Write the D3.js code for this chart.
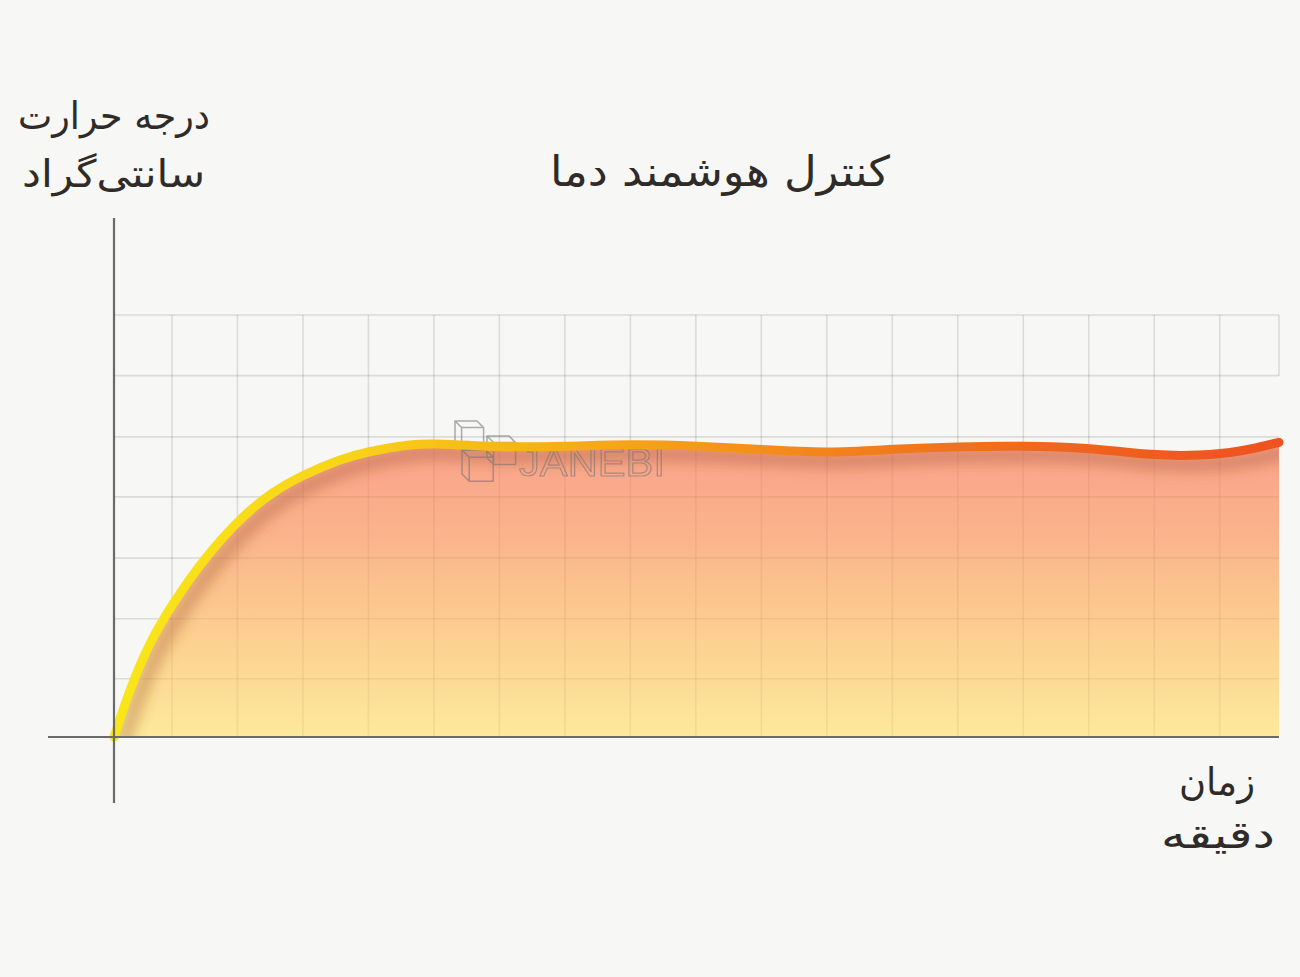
<!DOCTYPE html>
<html>
<head>
<meta charset="utf-8">
<script src="https://cdn.jsdelivr.net/npm/d3@7"></script>
<style>
  html, body { margin: 0; padding: 0; background: #f7f7f5; }
  svg { display: block; }
  text { font-family: "DejaVu Sans", sans-serif; }
</style>
</head>
<body>
<svg id="chart" width="1300" height="977"></svg>
<script>
// ---- data (time in minutes, temperature in °C) ----
const timeMin = [0, 0.244, 0.55, 0.885, 1.313, 1.878, 2.38, 2.90, 3.45, 3.88, 4.52, 4.90, 5.44, 5.89, 6.89, 7.89, 8.90, 9.89, 10.90, 11.91, 12.90, 13.89, 14.90, 15.89, 16.58, 17.19, 17.79];
const tempC   = [0, 8.0, 15.8, 21.8, 28.6, 35.6, 40.2, 43.3, 45.8, 47.1, 48.3, 48.4, 48.1, 47.8, 47.9, 48.3, 48.0, 47.4, 46.8, 47.5, 47.9, 48.0, 47.7, 46.4, 46.4, 47.0, 48.6];
const xGridTicks = [0.885, 1.885, 2.885, 3.885, 4.885, 5.885, 6.885, 7.885, 8.885, 9.885, 10.885, 11.885, 12.885, 13.885, 14.885, 15.885, 16.885];
const yGridTicks = [9.6, 19.5, 29.5, 39.6, 49.5, 59.6, 69.6];
const xDomain = [0, 17.79];
const yDomain = [0, 69.6];
const titleText = "کنترل هوشمند دما";
const yLabelLines = ["درجه حرارت", "سانتی\u200Cگراد"];
const xLabelLines = ["زمان", "دقیقه"];
const watermark = "JANEBI";

const svg = d3.select("#chart");
const x = d3.scaleLinear().domain(xDomain).range([114, 1279]);
const y = d3.scaleLinear().domain(yDomain).range([737, 315]);

const defs = svg.append("defs");
const ag = defs.append("linearGradient").attr("id", "areaGrad")
  .attr("gradientUnits", "userSpaceOnUse").attr("x1", 0).attr("x2", 0).attr("y1", 445).attr("y2", 737);
[[0, "#f9a28a"], [0.3, "#fab38b"], [0.65, "#fccf90"], [1, "#fde99b"]].forEach(s =>
  ag.append("stop").attr("offset", s[0]).attr("stop-color", s[1]));
const lg = defs.append("linearGradient").attr("id", "lineGrad")
  .attr("gradientUnits", "userSpaceOnUse").attr("x1", 114).attr("x2", 1279).attr("y1", 0).attr("y2", 0);
[[0, "#f9e61a"], [0.2, "#f8d418"], [0.3, "#f6bd17"], [0.45, "#f5a21a"], [0.62, "#f3821b"], [0.8, "#f0661c"], [1, "#ee5220"]].forEach(s =>
  lg.append("stop").attr("offset", s[0]).attr("stop-color", s[1]));
const blur = defs.append("filter").attr("id", "blur").attr("x", "-10%").attr("y", "-10%").attr("width", "120%").attr("height", "120%");
blur.append("feGaussianBlur").attr("stdDeviation", 6);

const pts = timeMin.map((t, i) => [t, tempC[i]]);
const curve = d3.curveBasis;
const area = d3.area().x(d => x(d[0])).y0(y(0)).y1(d => y(d[1])).curve(curve);
const line = d3.line().x(d => x(d[0])).y(d => y(d[1])).curve(curve);

defs.append("clipPath").attr("id", "areaClip").append("path").attr("d", area(pts));

function drawGrid(g) {
  g.selectAll("line.v").data(xGridTicks).join("line").attr("class", "v")
    .attr("x1", d => x(d)).attr("x2", d => x(d)).attr("y1", y(yDomain[1])).attr("y2", y(0));
  g.selectAll("line.h").data(yGridTicks).join("line").attr("class", "h")
    .attr("x1", x(0)).attr("x2", x(xDomain[1])).attr("y1", d => y(d)).attr("y2", d => y(d));
}
// grid on background
const grid = svg.append("g").attr("stroke", "#000").attr("stroke-opacity", 0.11).attr("stroke-width", 1.6);
drawGrid(grid);
grid.append("line").attr("x1", x(xDomain[1])).attr("x2", x(xDomain[1]))
  .attr("y1", y(yGridTicks[6])).attr("y2", y(yGridTicks[5]));

// area
svg.append("path").attr("d", area(pts)).attr("fill", "url(#areaGrad)");
// faint grid seen through the fill
const grid2 = svg.append("g").attr("clip-path", "url(#areaClip)")
  .attr("stroke", "#7a5a40").attr("stroke-opacity", 0.09).attr("stroke-width", 1.6);
drawGrid(grid2);
// inner shadow under line
svg.append("g").attr("clip-path", "url(#areaClip)")
  .append("path").attr("d", line(pts))
  .attr("fill", "none").attr("stroke", "rgba(150,70,30,0.30)").attr("stroke-width", 16)
  .attr("filter", "url(#blur)").attr("transform", "translate(8,9)");

// watermark
const wm = svg.append("g").attr("opacity", 0.6).attr("stroke", "#777").attr("fill", "none").attr("stroke-width", 1.5);
const cube = (cx, cy, s) => `M${cx},${cy} h${s} l${s*0.3},${s*0.3} v${s} h${-s} l${-s*0.3},${-s*0.3} z M${cx},${cy} l${s*0.3},${s*0.3} h${s} M${cx+s*0.3},${cy+s*0.3} v${s}`;
wm.append("path").attr("d", cube(455, 421, 22));
wm.append("path").attr("d", cube(487, 436, 22));
wm.append("path").attr("d", cube(462, 450, 24));
svg.append("text").attr("x", 519).attr("y", 476).text(watermark)
  .attr("font-size", 39).attr("fill", "none").attr("stroke", "#777").attr("stroke-width", 1.2)
  .attr("opacity", 0.6).attr("textLength", 146).attr("lengthAdjust", "spacingAndGlyphs")
  .style("font-family", "Liberation Sans, sans-serif");

// line
svg.append("path").attr("d", line(pts)).attr("fill", "none")
  .attr("stroke", "url(#lineGrad)").attr("stroke-width", 9).attr("stroke-linecap", "round").attr("stroke-linejoin", "round");

// axes
const axisG = svg.append("g").attr("stroke", "#6a6a6a").attr("stroke-width", 2.2);
axisG.append("line").attr("x1", 48).attr("x2", x(xDomain[1])).attr("y1", y(0)).attr("y2", y(0));
axisG.append("line").attr("x1", x(0)).attr("x2", x(0)).attr("y1", 218).attr("y2", 803);

// texts
const tc = "#2f2b29";
function label(xr, yb, size, len, txt) {
  svg.append("text").attr("x", xr - len).attr("y", yb).attr("text-anchor", "start")
    .attr("font-size", size).attr("fill", tc)
    .attr("textLength", len).attr("lengthAdjust", "spacingAndGlyphs").text(txt);
}
label(890, 186, 42, 340, titleText);
label(210, 129, 38, 192, yLabelLines[0]);
label(205, 187, 38, 183, yLabelLines[1]);
label(1255, 795, 38, 76, xLabelLines[0]);
label(1275, 848, 38, 114, xLabelLines[1]);
</script>
</body>
</html>
